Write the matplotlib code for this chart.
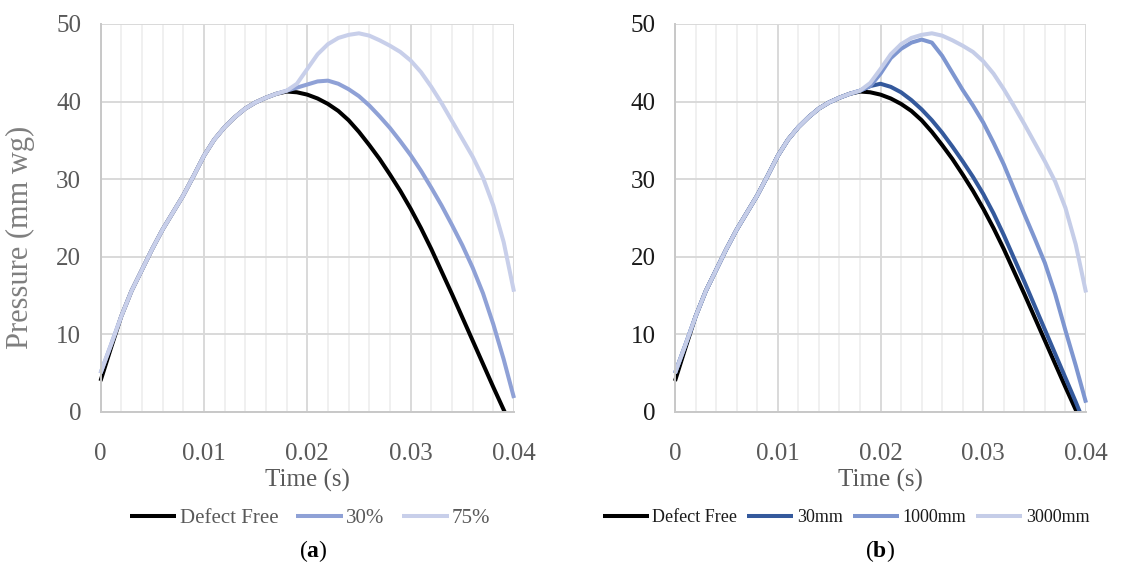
import matplotlib
matplotlib.use("Agg")
import matplotlib.pyplot as plt
from matplotlib.ticker import MultipleLocator

plt.rcParams['font.family'] = ['Liberation Serif', 'DejaVu Serif']
plt.rcParams['mathtext.fontset'] = 'custom'
plt.rcParams['mathtext.rm'] = 'Liberation Serif'
plt.rcParams['mathtext.bf'] = 'Liberation Serif:bold'

# ---------------- data ----------------
t_rise = [0.000, 0.001, 0.002, 0.003, 0.004, 0.005, 0.006, 0.007, 0.008, 0.009,
          0.010, 0.011, 0.012, 0.013, 0.014, 0.015, 0.016, 0.017]
p_rise = [4.0, 8.2, 12.3, 15.6, 18.3, 21.0, 23.5, 25.7, 27.9, 30.4,
          33.0, 35.1, 36.7, 38.0, 39.1, 39.9, 40.5, 41.0]
p_rise_defect = [5.0, 8.6] + p_rise[2:]

t_tail = [0.018, 0.019, 0.020, 0.021, 0.022, 0.023, 0.024, 0.025, 0.026, 0.027,
          0.028, 0.029, 0.030, 0.031, 0.032, 0.033, 0.034, 0.035, 0.036, 0.037,
          0.038, 0.039, 0.040]

defect_free_t = t_tail[:21] + [0.0391]
defect_free_p = [41.3, 41.2, 40.9, 40.4, 39.7, 38.8, 37.6, 36.1, 34.4, 32.6,
                 30.6, 28.5, 26.2, 23.7, 21.0, 18.1, 15.2, 12.2, 9.2, 6.2,
                 3.2, 0.0]

pct30_p = [41.4, 41.8, 42.2, 42.6, 42.7, 42.3, 41.6, 40.7, 39.5, 38.1,
           36.6, 34.9, 33.1, 31.1, 28.9, 26.6, 24.1, 21.5, 18.6, 15.3,
           11.3, 6.8, 1.8]
pct75_p = [41.4, 42.3, 44.2, 46.1, 47.4, 48.2, 48.6, 48.8, 48.5, 47.9,
           47.2, 46.4, 45.3, 43.8, 41.9, 39.8, 37.5, 35.2, 32.9, 30.2,
           26.6, 21.9, 15.5]

mm30_t = t_tail[:22] + [0.0394]
mm30_p = [41.4, 42.0, 42.3, 41.9, 41.2, 40.2, 39.0, 37.6, 36.0, 34.2,
          32.3, 30.3, 28.1, 25.6, 22.8, 19.8, 16.8, 13.7, 10.6, 7.5,
          4.4, 1.3, 0.0]
mm1000_p = [41.4, 42.0, 43.6, 45.6, 46.8, 47.6, 48.0, 47.6, 45.9, 43.7,
            41.5, 39.5, 37.3, 34.7, 31.9, 28.7, 25.5, 22.4, 19.2, 15.2,
            10.5, 6.0, 1.2]
mm3000_p = [41.4, 42.4, 44.2, 46.1, 47.4, 48.2, 48.6, 48.8, 48.5, 47.9,
            47.2, 46.4, 45.2, 43.6, 41.6, 39.4, 37.1, 34.7, 32.3, 29.7,
            26.3, 21.6, 15.4]

labels_a = ['Defect Free', '30%', '75%']
labels_b = ['Defect Free', '30mm', '1000mm', '3000mm']
colors_a = ['#000000', '#8FA1D6', '#C8CFEA']
colors_b = ['#000000', '#34599C', '#7E96D0', '#C5CDE8']

series_a = [
    (t_rise + defect_free_t, p_rise + defect_free_p),
    (t_rise + t_tail, p_rise_defect + pct30_p),
    (t_rise + t_tail, p_rise_defect + pct75_p),
]
series_b = [
    (t_rise + defect_free_t, p_rise + defect_free_p),
    (t_rise + mm30_t, p_rise_defect + mm30_p),
    (t_rise + t_tail, p_rise_defect + mm1000_p),
    (t_rise + t_tail, p_rise_defect + mm3000_p),
]

W, H = 1129, 569
fig = plt.figure(figsize=(W / 100, H / 100), dpi=100)

def px_axes(x0, x1, y0, y1):
    return fig.add_axes([x0 / W, 1 - y1 / H, (x1 - x0) / W, (y1 - y0) / H])

def style(ax, tickcolor):
    ax.set_xlim(0, 0.04)
    ax.set_ylim(0, 50)
    ax.xaxis.set_minor_locator(MultipleLocator(0.002))
    ax.set_xticks([0, 0.01, 0.02, 0.03, 0.04])
    ax.set_xticklabels(['0', '0.01', '0.02', '0.03', '0.04'])
    ax.set_yticks([0, 10, 20, 30, 40, 50])
    ax.set_yticklabels(['0', '10', '20', '30', '40', '50'])
    ax.grid(which='major', color='#D9D9D9', lw=1.4, zorder=0)
    ax.grid(which='minor', axis='x', color='#F0F0F0', lw=1.4, zorder=0)
    ax.set_axisbelow(True)
    for s in ['top', 'right']:
        ax.spines[s].set_visible(False)
    for s in ['left', 'bottom']:
        ax.spines[s].set_color('#C8C8C8')
        ax.spines[s].set_linewidth(1.4)
    ax.tick_params(which='both', length=0)
    ax.tick_params(axis='x', pad=22, labelsize=18, labelcolor='#595959')
    ax.tick_params(axis='y', pad=14, labelsize=18, labelcolor=tickcolor)
    ax.set_xlabel('Time (s)', fontsize=18, color='#595959', labelpad=3)

axA = px_axes(100.5, 514, 24, 412)
style(axA, '#595959')
axA.set_ylabel('Pressure (mm wg)', fontsize=22, color='#7F7F7F')
axA.yaxis.set_label_coords(-0.158, 0.45)
linesA = []
for (x, y), c, lab in zip(series_a, colors_a, labels_a):
    ln, = axA.plot(x, y, color=c, lw=2.9, label=lab, solid_capstyle='butt',
                   solid_joinstyle='round', clip_on=False)
    linesA.append(ln)

axB = px_axes(675, 1086, 24, 412)
style(axB, '#1A1A1A')
linesB = []
for (x, y), c, lab in zip(series_b, colors_b, labels_b):
    ln, = axB.plot(x, y, color=c, lw=2.9, label=lab, solid_capstyle='butt',
                   solid_joinstyle='round', clip_on=False)
    linesB.append(ln)

legA = fig.legend(handles=linesA, labels=labels_a, loc='center', ncol=3,
                  bbox_to_anchor=(310 / W, 1 - 518 / H), frameon=False,
                  fontsize=15, handlelength=2.25, handletextpad=0.15,
                  columnspacing=0.85, borderaxespad=0)
for tx in legA.get_texts():
    tx.set_color('#595959')

legB = fig.legend(handles=linesB, labels=labels_b, loc='center', ncol=4,
                  bbox_to_anchor=(846 / W, 1 - 518 / H), frameon=False,
                  fontsize=13, handlelength=2.55, handletextpad=0.2,
                  columnspacing=0.55, borderaxespad=0)
for tx in legB.get_texts():
    tx.set_color('#1A1A1A')

fig.text(313 / W, 1 - 551 / H, r'($\mathbf{a}$)', ha='center', va='center', fontsize=17)
fig.text(880 / W, 1 - 551 / H, r'($\mathbf{b}$)', ha='center', va='center', fontsize=17)

fig.savefig('out.png', dpi=100)
